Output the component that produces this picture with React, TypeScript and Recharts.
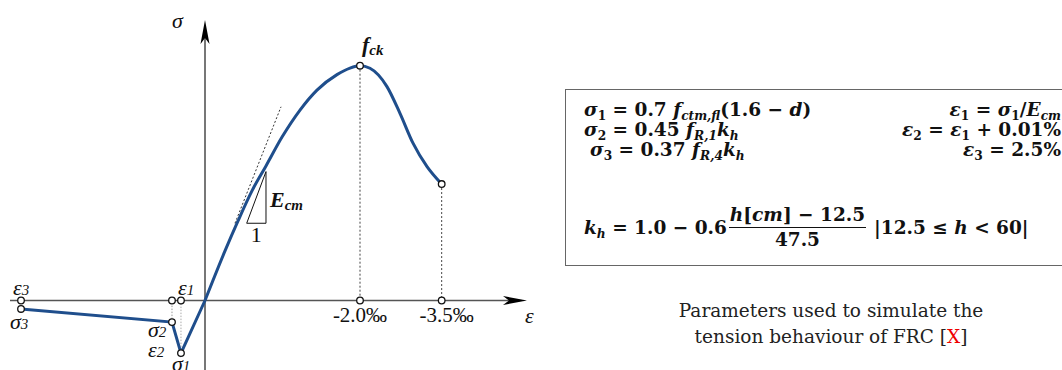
import React from "react";
import {
  ComposedChart,
  Line,
  XAxis,
  YAxis,
  ReferenceLine,
  ReferenceDot,
} from "recharts";

// Schematic stress-strain law for FRC (compression to the right, tension to the left).
// Strain in "schematic permil" units, stress relative to f_ck.

const COMP_STRAIN = [0, 0.258, 0.426, 0.606, 0.787, 0.994, 1.226, 1.445, 1.703, 1.871, 2.0, 2.129, 2.348, 2.516, 2.684, 2.865, 3.054];
const COMP_STRESS = [0, 0.211, 0.339, 0.467, 0.573, 0.696, 0.811, 0.896, 0.962, 0.99, 1.0, 0.989, 0.911, 0.797, 0.67, 0.57, 0.496];

// tension branch: sigma3 -> sigma2 -> sigma1 -> origin
const TENS_STRAIN = [-2.374, -0.426, -0.31, 0];
const TENS_STRESS = [-0.036, -0.092, -0.224, 0];

// characteristic points
const EPS_1 = -0.31;
const EPS_2 = -0.426;
const EPS_3 = -2.374;
const SIG_1 = -0.224;
const SIG_2 = -0.092;
const SIG_3 = -0.036;
const PEAK_STRAIN = 2.0;
const END_STRAIN = 3.054;
const END_STRESS = 0.496;

const TICK_POS = [2.0, 3.054];
const TICK_LABELS = ["-2.0\u2030", "-3.5\u2030"];

// tangent (E_cm) and the slope triangle
const TANGENT_STRAIN = [0.387, 0.981];
const TANGENT_STRESS = [0.329, 0.825];
const TRI_STRAIN = [0.538, 0.787, 0.787, 0.538];
const TRI_STRESS = [0.329, 0.329, 0.549, 0.329];

const zip = (xs: number[], ys: number[]) => xs.map((x, i) => ({ x, y: ys[i] }));

const compData = zip(COMP_STRAIN, COMP_STRESS);
const tensData = zip(TENS_STRAIN, TENS_STRESS);
const triData = zip(TRI_STRAIN, TRI_STRESS);
const markerData = [
  { x: EPS_3, y: 0 },
  { x: EPS_3, y: SIG_3 },
  { x: EPS_2, y: 0 },
  { x: EPS_2, y: SIG_2 },
  { x: EPS_1, y: 0 },
  { x: EPS_1, y: SIG_1 },
  { x: PEAK_STRAIN, y: 1.0 },
  { x: PEAK_STRAIN, y: 0 },
  { x: END_STRAIN, y: END_STRESS },
  { x: END_STRAIN, y: 0 },
];

// layout
const W = 1062;
const H = 370;
const X0 = 205;
const Y0 = 300.5;
const SX = 77.5;
const SY = 234.8;
const ux = (px: number) => (px - X0) / SX;
const uy = (py: number) => (Y0 - py) / SY;
const X_DOMAIN = [ux(0), ux(W)];
const Y_DOMAIN = [uy(H), uy(0)];

const BLUE = "#1f4e8c";
const AXIS = "#555";
const SERIF = '"Liberation Serif", "Times New Roman", serif';
const MATH = '"DejaVu Serif", serif';

const Circle = (props: any) => (
  <circle cx={props.cx} cy={props.cy} r={3.3} fill="#fff" stroke="#111" strokeWidth={1.3} />
);

function txt(
  main: string,
  sub: string,
  dx: number,
  dy: number,
  opts: { size?: number; subSize?: number; bold?: boolean; anchor?: string; italic?: boolean } = {}
) {
  const { size = 22, subSize = 15, bold = false, anchor = "start", italic = true } = opts;
  return (props: any) => (
    <text
      x={props.cx + dx}
      y={props.cy + dy}
      fontFamily={SERIF}
      fontSize={size}
      fontStyle={italic ? "italic" : "normal"}
      fontWeight={bold ? "bold" : "normal"}
      textAnchor={anchor as any}
      fill="#111"
    >
      {main}
      {sub && <tspan fontSize={subSize} dy={bold ? 3 : 0}>{sub}</tspan>}
    </text>
  );
}

const upArrow = (props: any) => (
  <path
    d={`M${props.cx},${props.cy} L${props.cx + 4.5},${props.cy + 24} L${props.cx},${props.cy + 18} L${props.cx - 4.5},${props.cy + 24} Z`}
    fill="#000"
  />
);
const rightArrow = (props: any) => (
  <path
    d={`M${props.cx},${props.cy} L${props.cx - 24},${props.cy - 4.5} L${props.cx - 18},${props.cy} L${props.cx - 24},${props.cy + 4.5} Z`}
    fill="#000"
  />
);

function Diagram() {
  return (
    <ComposedChart width={W} height={H} margin={{ top: 0, right: 0, bottom: 0, left: 0 }}>
      <XAxis type="number" dataKey="x" domain={X_DOMAIN} allowDataOverflow hide />
      <YAxis type="number" dataKey="y" domain={Y_DOMAIN} allowDataOverflow hide />

      {/* guide lines */}
      <ReferenceLine segment={[{ x: EPS_2, y: SIG_2 }, { x: EPS_2, y: 0 }]} stroke="#999" strokeDasharray="1.5 1.5" />
      <ReferenceLine segment={[{ x: EPS_1, y: SIG_1 }, { x: EPS_1, y: 0 }]} stroke="#aaa" strokeDasharray="1.5 1.5" />
      <ReferenceLine segment={[{ x: PEAK_STRAIN, y: 1.0 }, { x: PEAK_STRAIN, y: 0 }]} stroke="#444" strokeDasharray="2 2" />
      <ReferenceLine segment={[{ x: END_STRAIN, y: END_STRESS }, { x: END_STRAIN, y: 0 }]} stroke="#444" strokeDasharray="2 2" />
      <ReferenceLine
        segment={[
          { x: TANGENT_STRAIN[0], y: TANGENT_STRESS[0] },
          { x: TANGENT_STRAIN[1], y: TANGENT_STRESS[1] },
        ]}
        stroke="#333"
        strokeDasharray="2 2"
      />

      {/* axes */}
      <ReferenceLine segment={[{ x: ux(10), y: 0 }, { x: ux(510), y: 0 }]} stroke={AXIS} strokeWidth={1.6} />
      <ReferenceLine segment={[{ x: 0, y: uy(H) }, { x: 0, y: uy(38) }]} stroke={AXIS} strokeWidth={1.6} />
      <ReferenceDot x={0} y={uy(20)} r={0} shape={upArrow} />
      <ReferenceDot x={ux(527)} y={0} r={0} shape={rightArrow} />

      <Line data={triData} dataKey="y" type="linear" stroke="#111" strokeWidth={1} dot={false} activeDot={false} isAnimationActive={false} />
      <Line data={tensData} dataKey="y" type="linear" stroke={BLUE} strokeWidth={3} dot={false} activeDot={false} isAnimationActive={false} />
      <Line data={compData} dataKey="y" type="monotone" stroke={BLUE} strokeWidth={3} dot={false} activeDot={false} isAnimationActive={false} />

      {markerData.map((m, i) => (
        <ReferenceDot key={i} x={m.x} y={m.y} r={3.3} shape={Circle} />
      ))}

      {/* labels */}
      <ReferenceDot x={EPS_3} y={0} r={0} shape={txt("\u03b5", "3", -8, -5.5)} />
      <ReferenceDot x={EPS_3} y={SIG_3} r={0} shape={txt("\u03c3", "3", -11, 20)} />
      <ReferenceDot x={EPS_1} y={0} r={0} shape={txt("\u03b5", "1", -3, -5.5)} />
      <ReferenceDot x={EPS_2} y={SIG_2} r={0} shape={txt("\u03c3", "2", -24, 15)} />
      <ReferenceDot x={EPS_1} y={SIG_1} r={0} shape={txt("\u03b5", "2", -33, 4)} />
      <ReferenceDot x={EPS_1} y={SIG_1} r={0} shape={txt("\u03c3", "1", -9, 18)} />
      <ReferenceDot x={0} y={uy(20)} r={0} shape={txt("\u03c3", "", -33, 8)} />
      <ReferenceDot x={ux(527)} y={0} r={0} shape={txt("\u03b5", "", -2, 22.5)} />
      <ReferenceDot x={PEAK_STRAIN} y={1.0} r={0} shape={txt("f", "ck", 2, -14, { size: 22, subSize: 15, bold: true })} />
      <ReferenceDot x={TRI_STRAIN[1]} y={TRI_STRESS[2]} r={0} shape={txt("E", "cm", 4, 35, { size: 22, subSize: 15, bold: true })} />
      <ReferenceDot
        x={(TRI_STRAIN[0] + TRI_STRAIN[1]) / 2}
        y={TRI_STRESS[0]}
        r={0}
        shape={txt("1", "", 0, 19, { size: 22, anchor: "middle", italic: false })}
      />
      {TICK_POS.map((p, i) => (
        <ReferenceDot
          key={p}
          x={p}
          y={0}
          r={0}
          shape={txt(TICK_LABELS[i], "", i === 0 ? 0 : 5, 21.5, { size: 21, anchor: "middle", italic: false })}
        />
      ))}
    </ComposedChart>
  );
}

const S = ({ children }: { children: React.ReactNode }) => (
  <sub style={{ fontSize: "0.66em", verticalAlign: "-0.3em", lineHeight: 0 }}>{children}</sub>
);

function Formulas() {
  const line: React.CSSProperties = {
    position: "absolute",
    fontFamily: MATH,
    fontWeight: "bold",
    fontSize: 18.5,
    lineHeight: "20px",
    whiteSpace: "nowrap",
    color: "#111",
  };
  const right: React.CSSProperties = { ...line, left: 755, width: 306, textAlign: "right" };
  return (
    <>
      <div
        style={{
          position: "absolute",
          left: 565,
          top: 89,
          width: 520,
          height: 177,
          border: "1.5px solid #666",
          boxSizing: "border-box",
        }}
      />
      <div style={{ ...line, left: 584, top: 100 }}>
        <i>σ</i><S>1</S> = 0.7 <i>f</i><S><i>ctm,fl</i></S>(1.6 − <i>d</i>)
      </div>
      <div style={{ ...line, left: 584, top: 120 }}>
        <i>σ</i><S>2</S> = 0.45 <i>f</i><S><i>R,1</i></S><i>k</i><S><i>h</i></S>
      </div>
      <div style={{ ...line, left: 590, top: 140 }}>
        <i>σ</i><S>3</S> = 0.37 <i>f</i><S><i>R,4</i></S><i>k</i><S><i>h</i></S>
      </div>
      <div style={{ ...right, top: 100 }}>
        <i>ε</i><S>1</S> = <i>σ</i><S>1</S>/<i>E</i><S><i>cm</i></S>
      </div>
      <div style={{ ...right, top: 120 }}>
        <i>ε</i><S>2</S> = <i>ε</i><S>1</S> + 0.01%
      </div>
      <div style={{ ...right, top: 140 }}>
        <i>ε</i><S>3</S> = 2.5%
      </div>
      <div style={{ ...line, left: 584, top: 205, display: "flex", alignItems: "center" }}>
        <span>
          <i>k</i><S><i>h</i></S> = 1.0 − 0.6
        </span>
        <span style={{ display: "inline-flex", flexDirection: "column", alignItems: "center", margin: "0 8px 0 2px" }}>
          <span style={{ padding: "0 1px" }}>
            <i>h</i>[<i>cm</i>] − 12.5
          </span>
          <span style={{ alignSelf: "stretch", borderTop: "1.5px solid #111", margin: "2px 0" }} />
          <span>47.5</span>
        </span>
        <span>
          |12.5 ≤ <i>h</i> &lt; 60|
        </span>
      </div>
      <div
        style={{
          position: "absolute",
          left: 631,
          top: 298,
          width: 400,
          textAlign: "center",
          fontFamily: MATH,
          fontSize: 18.5,
          lineHeight: "26px",
          color: "#222",
        }}
      >
        Parameters used to simulate the
        <br />
        tension behaviour of FRC [<span style={{ color: "#e00" }}>X</span>]
      </div>
    </>
  );
}

export default function App() {
  return (
    <div
      style={{
        position: "absolute",
        left: 0,
        top: 0,
        width: W,
        height: H,
        overflow: "hidden",
        background: "#fff",
      }}
    >
      <Diagram />
      <Formulas />
    </div>
  );
}
